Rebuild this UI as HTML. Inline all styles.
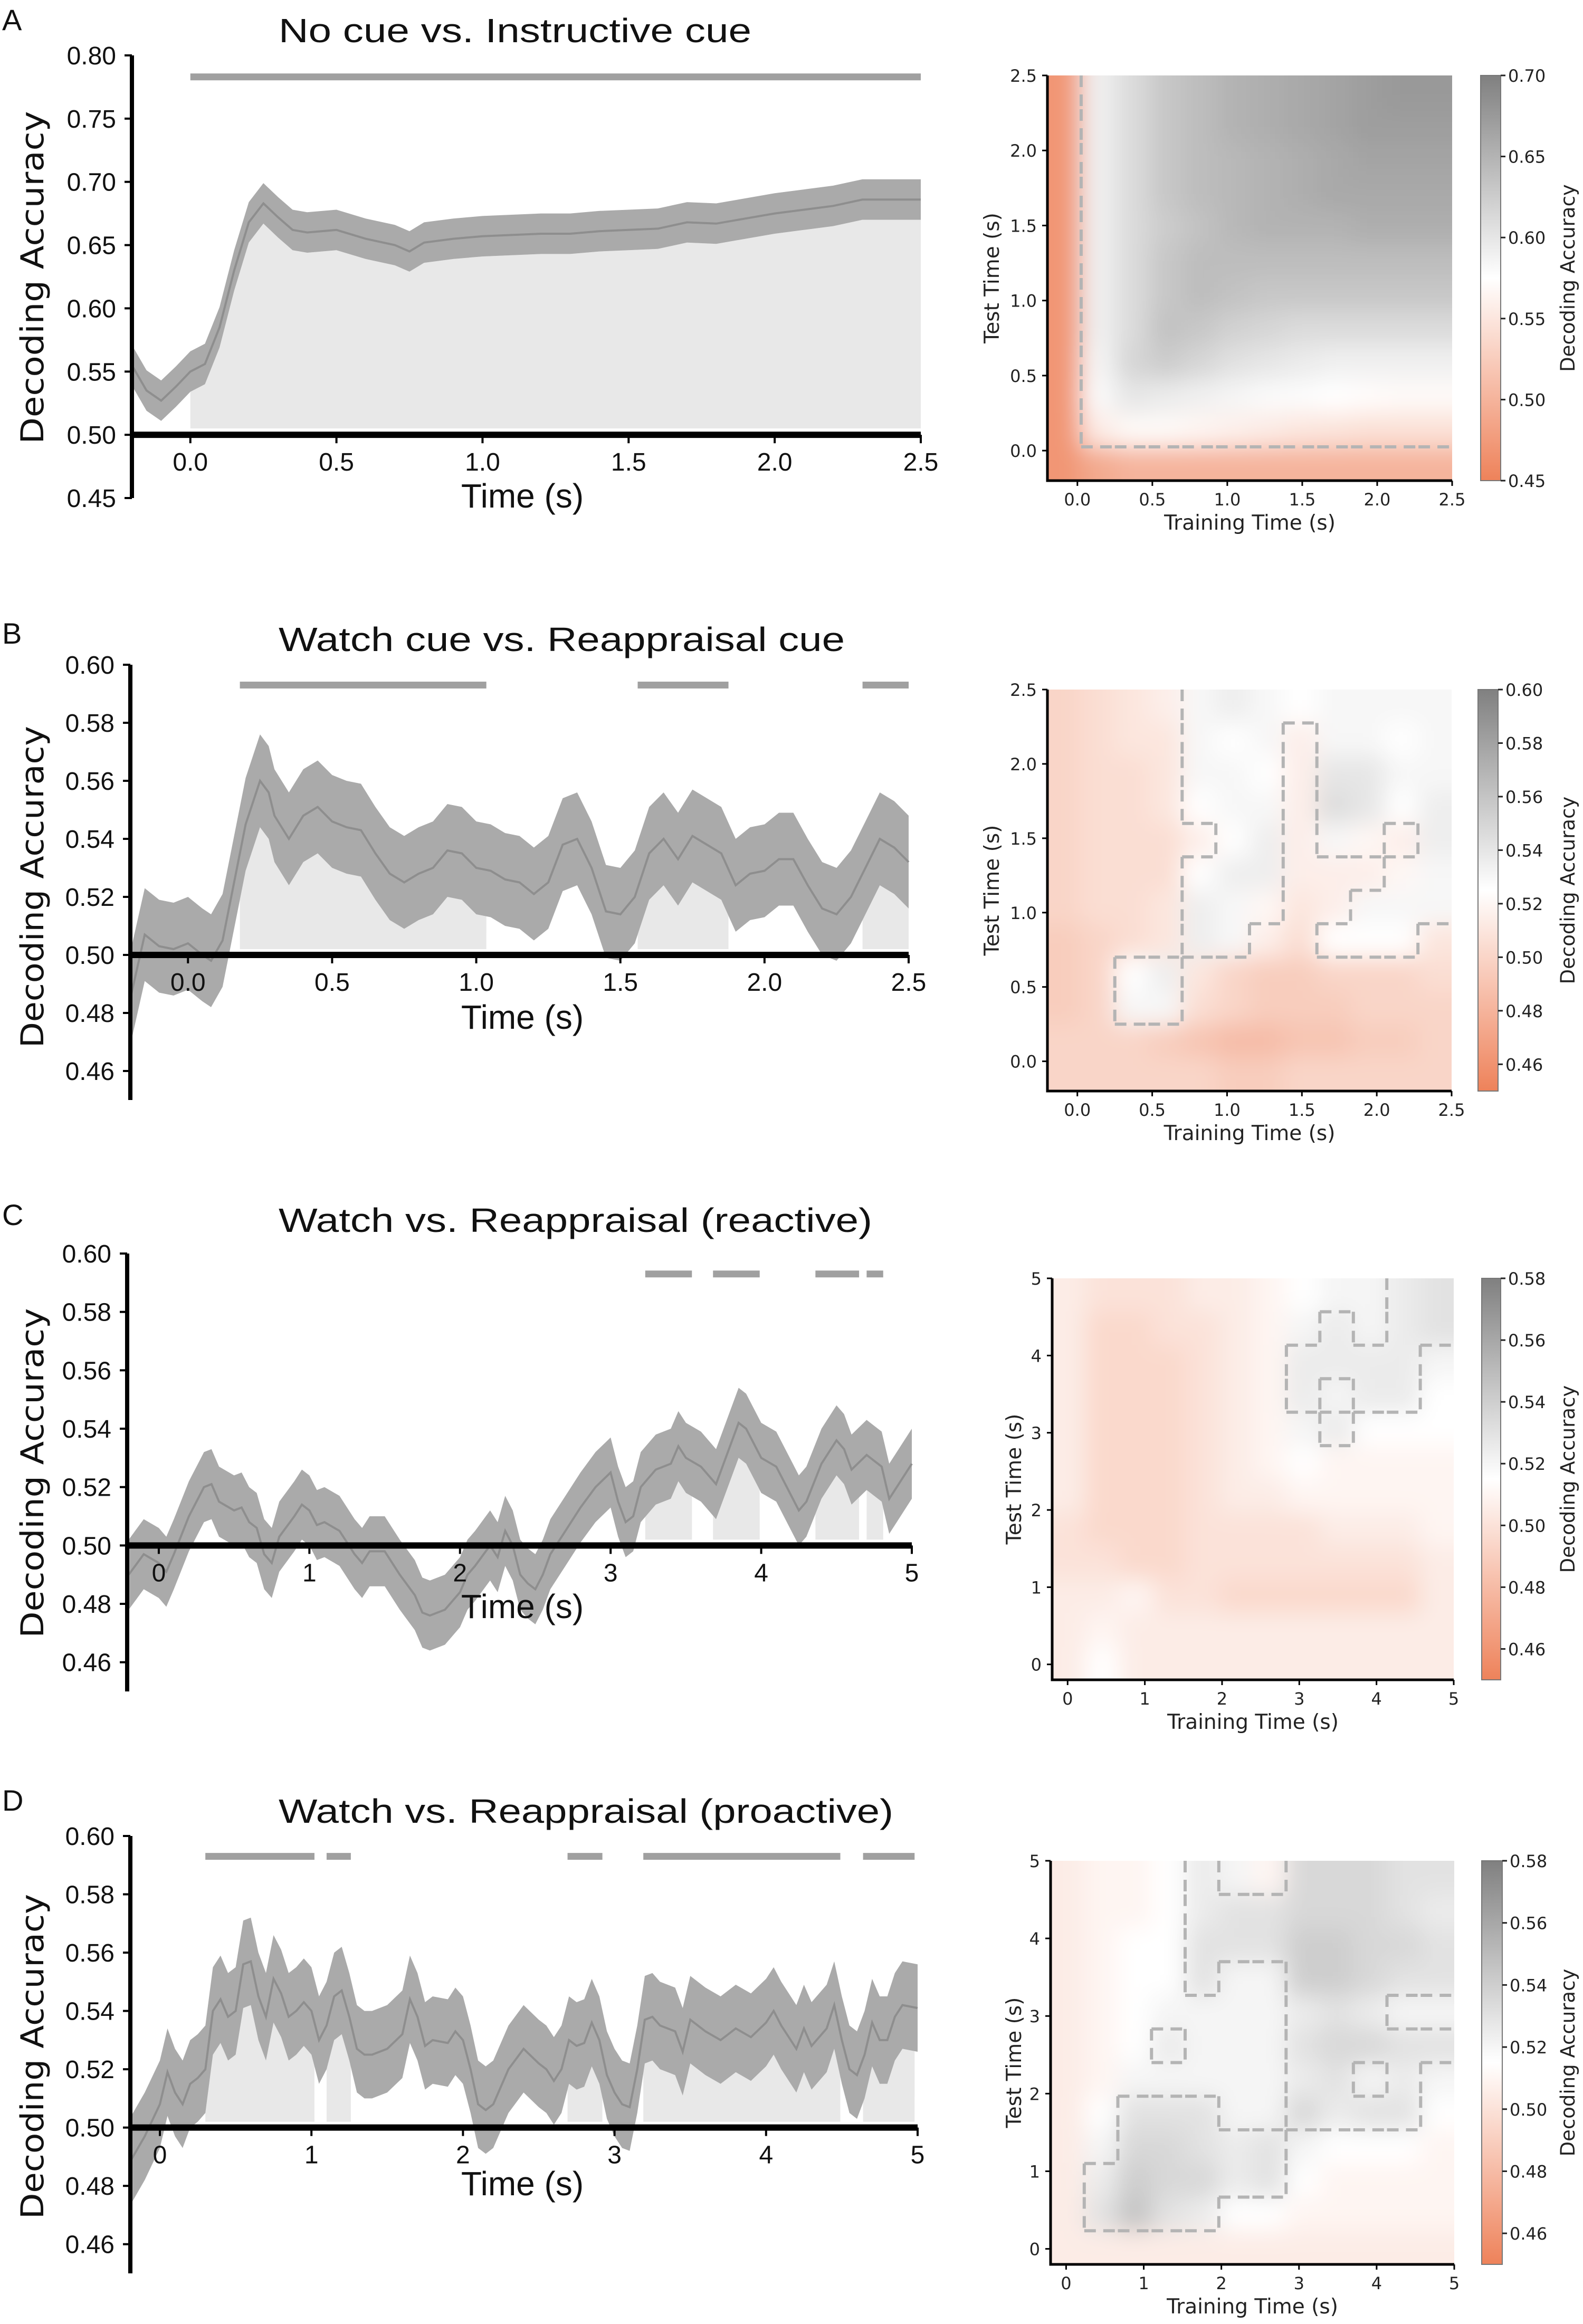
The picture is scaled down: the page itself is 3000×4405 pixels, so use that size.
<!DOCTYPE html>
<html><head><meta charset="utf-8">
<style>
html,body{margin:0;padding:0;background:#fff;}
svg{display:block;}
</style></head>
<body>
<svg id="fig" xmlns="http://www.w3.org/2000/svg" width="3000" height="4405" viewBox="0 0 3000 4405">
<defs>
<filter id="blur" x="-10%" y="-10%" width="120%" height="120%"><feGaussianBlur stdDeviation="22"/></filter>
</defs>
<rect x="0" y="0" width="3000" height="4405" fill="#fff"/>
</svg>
<script>
// ---------- Panel A line data ----------
const tA = [-0.2,-0.15,-0.1,-0.05,0,0.05,0.1,0.15,0.2,0.25,0.3,0.35,0.4,0.5,0.6,0.7,0.75,0.8,0.9,1.0,1.1,1.2,1.3,1.4,1.5,1.6,1.7,1.8,1.9,2.0,2.1,2.2,2.3,2.4,2.5];
const mA = [0.555,0.535,0.527,0.538,0.550,0.556,0.585,0.630,0.668,0.683,0.672,0.662,0.660,0.662,0.655,0.650,0.645,0.652,0.655,0.657,0.658,0.659,0.659,0.661,0.662,0.663,0.668,0.667,0.671,0.675,0.678,0.681,0.686,0.686,0.686];
const ciA = 0.016;
const sigA = [[0.0,2.5]];
// ---------- Panel B line data ----------
const tB = [-0.2,-0.15,-0.1,-0.05,0,0.05,0.08,0.12,0.15,0.2,0.25,0.28,0.3,0.35,0.4,0.45,0.5,0.55,0.6,0.65,0.7,0.75,0.8,0.85,0.9,0.95,1.0,1.05,1.1,1.15,1.2,1.25,1.3,1.35,1.4,1.45,1.5,1.55,1.6,1.65,1.7,1.75,1.8,1.85,1.9,1.95,2.0,2.05,2.1,2.15,2.2,2.25,2.3,2.35,2.4,2.45,2.5];
const mB = [0.485,0.507,0.503,0.502,0.504,0.500,0.498,0.505,0.520,0.545,0.560,0.556,0.548,0.540,0.548,0.551,0.546,0.544,0.543,0.535,0.528,0.525,0.528,0.530,0.536,0.535,0.530,0.529,0.526,0.525,0.521,0.525,0.538,0.540,0.530,0.515,0.514,0.520,0.535,0.540,0.533,0.541,0.538,0.535,0.524,0.528,0.529,0.533,0.533,0.524,0.516,0.514,0.520,0.530,0.540,0.537,0.532];
const ciB = 0.016;
const sigB = [[0.18,1.035],[1.56,1.875],[2.34,2.5]];
// ---------- Panel C line data ----------
const tC = [-0.2,-0.1,0,0.05,0.1,0.2,0.3,0.35,0.4,0.5,0.55,0.6,0.65,0.7,0.75,0.8,0.9,0.95,1.0,1.05,1.1,1.2,1.3,1.35,1.4,1.5,1.6,1.7,1.75,1.8,1.9,2.0,2.05,2.1,2.2,2.25,2.3,2.35,2.4,2.45,2.5,2.55,2.6,2.7,2.8,2.9,3.0,3.05,3.1,3.15,3.2,3.3,3.4,3.45,3.5,3.6,3.7,3.8,3.85,3.9,4.0,4.1,4.2,4.25,4.3,4.4,4.5,4.55,4.6,4.7,4.8,4.85,4.9,5.0];
const mC = [0.490,0.497,0.494,0.491,0.497,0.510,0.520,0.521,0.515,0.512,0.513,0.508,0.506,0.497,0.494,0.503,0.510,0.514,0.512,0.507,0.508,0.505,0.497,0.494,0.498,0.498,0.490,0.483,0.477,0.476,0.478,0.484,0.490,0.493,0.500,0.496,0.505,0.500,0.490,0.487,0.485,0.490,0.497,0.505,0.513,0.520,0.525,0.515,0.508,0.510,0.520,0.526,0.528,0.534,0.530,0.527,0.521,0.535,0.542,0.540,0.530,0.527,0.517,0.512,0.515,0.528,0.536,0.533,0.526,0.531,0.527,0.516,0.520,0.528];
const ciC = 0.012;
const sigC = [[3.23,3.54],[3.68,3.99],[4.36,4.65],[4.70,4.81]];
// ---------- Panel D line data ----------
const tD = [-0.2,-0.1,0,0.05,0.1,0.15,0.2,0.25,0.3,0.35,0.4,0.45,0.5,0.55,0.6,0.65,0.7,0.75,0.8,0.85,0.9,0.95,1.0,1.05,1.1,1.15,1.2,1.25,1.3,1.35,1.4,1.5,1.6,1.65,1.7,1.75,1.8,1.9,1.95,2.0,2.05,2.1,2.15,2.2,2.3,2.4,2.5,2.55,2.6,2.65,2.7,2.75,2.8,2.85,2.9,2.95,3.0,3.05,3.1,3.15,3.2,3.25,3.3,3.4,3.45,3.5,3.6,3.7,3.8,3.9,4.0,4.05,4.1,4.15,4.2,4.25,4.3,4.4,4.45,4.5,4.55,4.6,4.65,4.7,4.75,4.8,4.85,4.9,5.0];
const mD = [0.488,0.497,0.508,0.519,0.512,0.508,0.515,0.517,0.520,0.540,0.544,0.538,0.540,0.556,0.557,0.545,0.538,0.551,0.546,0.538,0.540,0.543,0.540,0.530,0.535,0.545,0.547,0.538,0.527,0.525,0.525,0.527,0.532,0.544,0.538,0.528,0.530,0.529,0.533,0.530,0.520,0.508,0.506,0.508,0.520,0.527,0.522,0.520,0.516,0.520,0.530,0.528,0.529,0.536,0.530,0.518,0.512,0.508,0.507,0.520,0.537,0.538,0.535,0.533,0.526,0.537,0.533,0.530,0.534,0.531,0.536,0.540,0.535,0.531,0.527,0.534,0.528,0.534,0.542,0.530,0.520,0.518,0.525,0.536,0.530,0.530,0.538,0.542,0.541];
const ciD = 0.015;
const sigD = [[0.30,1.02],[1.10,1.26],[2.69,2.92],[3.19,4.49],[4.64,4.98]];
// ---------- tick labels ----------
const yTicksA = ["0.45","0.50","0.55","0.60","0.65","0.70","0.75","0.80"];
const yTicksBCD = ["0.46","0.48","0.50","0.52","0.54","0.56","0.58","0.60"];
const xTicksShort = ["0.0","0.5","1.0","1.5","2.0","2.5"];
const xTicksLong = ["0","1","2","3","4","5"];
const cbTicksA = ["0.45","0.50","0.55","0.60","0.65","0.70"];
const cbTicksB = ["0.46","0.48","0.50","0.52","0.54","0.56","0.58","0.60"];
const cbTicksCD = ["0.46","0.48","0.50","0.52","0.54","0.56","0.58"];
// ---------- heatmap grids (rows top -> bottom) ----------
const hmA = [
[.47,.59,.61,.63,.64,.65,.655,.66,.665,.67,.675,.675],
[.47,.59,.61,.63,.64,.65,.655,.66,.665,.67,.67,.67],
[.47,.59,.61,.63,.64,.645,.65,.655,.66,.665,.665,.665],
[.47,.59,.61,.63,.64,.645,.65,.655,.66,.66,.66,.66],
[.47,.59,.61,.625,.635,.645,.65,.65,.65,.655,.655,.655],
[.47,.59,.61,.63,.64,.64,.64,.64,.64,.64,.64,.64],
[.47,.59,.61,.63,.64,.635,.63,.63,.63,.63,.63,.63],
[.47,.59,.61,.635,.63,.62,.615,.61,.61,.61,.61,.61],
[.47,.585,.615,.625,.615,.605,.60,.595,.59,.59,.59,.59],
[.47,.58,.60,.595,.59,.585,.58,.578,.575,.572,.57,.57],
[.47,.555,.57,.57,.565,.56,.555,.55,.548,.545,.545,.545],
[.47,.49,.50,.50,.50,.50,.50,.50,.50,.50,.50,.50]];
const sigMaskA = [
[0,1,1,1,1,1,1,1,1,1,1,1],[0,1,1,1,1,1,1,1,1,1,1,1],[0,1,1,1,1,1,1,1,1,1,1,1],[0,1,1,1,1,1,1,1,1,1,1,1],
[0,1,1,1,1,1,1,1,1,1,1,1],[0,1,1,1,1,1,1,1,1,1,1,1],[0,1,1,1,1,1,1,1,1,1,1,1],[0,1,1,1,1,1,1,1,1,1,1,1],
[0,1,1,1,1,1,1,1,1,1,1,1],[0,1,1,1,1,1,1,1,1,1,1,1],[0,1,1,1,1,1,1,1,1,1,1,1],[0,0,0,0,0,0,0,0,0,0,0,0]];
const hmB = [
[.50,.505,.51,.515,.53,.535,.53,.525,.53,.53,.53,.53],
[.50,.505,.51,.51,.53,.525,.53,.515,.53,.53,.525,.53],
[.50,.505,.505,.51,.53,.53,.525,.515,.54,.54,.53,.53],
[.50,.505,.505,.51,.525,.53,.53,.515,.545,.54,.525,.535],
[.50,.505,.505,.505,.515,.525,.535,.515,.53,.52,.515,.535],
[.50,.505,.505,.505,.525,.535,.535,.515,.515,.515,.52,.53],
[.50,.505,.505,.51,.535,.53,.52,.51,.515,.53,.53,.53],
[.495,.50,.505,.51,.535,.53,.515,.505,.525,.525,.525,.51],
[.495,.50,.525,.535,.51,.50,.495,.495,.50,.50,.50,.505],
[.495,.50,.53,.53,.505,.50,.495,.495,.495,.50,.50,.50],
[.50,.50,.50,.495,.49,.485,.485,.49,.49,.495,.495,.50],
[.50,.50,.50,.50,.50,.495,.495,.50,.50,.50,.50,.50]];
const hmC = [
[.505,.50,.50,.50,.505,.505,.51,.515,.52,.52,.525,.53],
[.505,.495,.495,.50,.50,.505,.51,.52,.525,.52,.525,.53],
[.505,.495,.495,.495,.50,.505,.51,.525,.525,.525,.525,.52],
[.505,.495,.495,.495,.50,.505,.51,.525,.52,.525,.525,.515],
[.505,.495,.495,.495,.50,.505,.51,.52,.525,.515,.515,.515],
[.505,.495,.495,.495,.50,.505,.51,.515,.51,.51,.51,.51],
[.505,.495,.495,.495,.50,.505,.505,.51,.51,.51,.51,.51],
[.50,.495,.495,.495,.50,.50,.50,.50,.505,.505,.505,.51],
[.50,.50,.495,.495,.50,.50,.50,.50,.50,.50,.50,.505],
[.505,.505,.51,.50,.50,.495,.495,.495,.495,.495,.495,.505],
[.505,.51,.505,.505,.505,.505,.505,.505,.505,.505,.505,.505],
[.505,.515,.505,.505,.505,.505,.505,.505,.505,.505,.505,.505]];
const hmD = [
[.505,.51,.51,.515,.525,.52,.51,.535,.535,.535,.53,.53],
[.505,.51,.51,.515,.525,.53,.53,.535,.535,.535,.53,.525],
[.505,.51,.515,.515,.53,.53,.53,.54,.54,.535,.535,.53],
[.505,.51,.515,.515,.53,.52,.52,.54,.54,.535,.53,.53],
[.505,.51,.515,.52,.52,.52,.52,.525,.53,.525,.52,.52],
[.505,.51,.515,.525,.52,.52,.52,.53,.535,.535,.53,.53],
[.505,.51,.52,.52,.52,.52,.52,.525,.53,.52,.525,.52],
[.505,.515,.53,.53,.53,.52,.52,.535,.525,.53,.53,.515],
[.505,.52,.535,.535,.53,.525,.53,.52,.515,.515,.515,.51],
[.505,.525,.54,.535,.535,.525,.53,.515,.51,.51,.51,.51],
[.505,.53,.545,.53,.525,.515,.515,.51,.51,.51,.51,.51],
[.505,.505,.505,.505,.505,.505,.505,.505,.505,.505,.505,.505]];

const NS = 'http://www.w3.org/2000/svg';
const svg = document.getElementById('fig');
function mk(tag, attrs, parent){
  const e = document.createElementNS(NS, tag);
  for (const k in attrs) e.setAttribute(k, attrs[k]);
  (parent || svg).appendChild(e);
  return e;
}
function interp(ts, vs, t){
  if (t <= ts[0]) return vs[0];
  for (let i = 1; i < ts.length; i++){
    if (t <= ts[i]) { const f = (t - ts[i-1]) / (ts[i] - ts[i-1]); return vs[i-1] + f * (vs[i] - vs[i-1]); }
  }
  return vs[vs.length - 1];
}
const SANS = '"Liberation Sans", Arial, sans-serif';
const DJ = '"DejaVu Sans", "Liberation Sans", sans-serif';

function linePanel(c, ts, ms, ci, sig, yLabels, xLabels){
  const g = mk('g', {});
  
  
  const X = t => c.px0 + (t - c.xmin) / (c.xmax - c.xmin) * (c.px1 - c.px0);
  const Y = v => c.pyBot - (v - c.ymin) / (c.ymax - c.ymin) * (c.pyBot - c.pyTop);
  sig.forEach((iv, k) => {
    const pts = [iv[0]];
    ts.forEach(t => { if (t > iv[0] && t < iv[1]) pts.push(t); });
    pts.push(iv[1]);
    let d = 'M' + X(iv[0]) + ',' + Y(c.base);
    pts.forEach(t => { const lo = Math.max(c.base, interp(ts, ms, t) - ci); d += ' L' + X(t).toFixed(1) + ',' + Y(lo).toFixed(1); });
    d += ' L' + X(iv[1]) + ',' + Y(c.base) + ' Z';
    const f = mk('path', {d: d, fill: '#e8e8e8'}, g);
    
    
  });
  let up = '', lo = '';
  ts.forEach((t, i) => { up += (i ? ' L' : 'M') + X(t).toFixed(1) + ',' + Y(ms[i] + ci).toFixed(1); });
  for (let i = ts.length - 1; i >= 0; i--) lo += ' L' + X(ts[i]).toFixed(1) + ',' + Y(ms[i] - ci).toFixed(1);
  const band = mk('path', {d: up + lo + ' Z', fill: '#aaaaaa'}, g);
  
  
  let md = '';
  ts.forEach((t, i) => { md += (i ? ' L' : 'M') + X(t).toFixed(1) + ',' + Y(ms[i]).toFixed(1); });
  const ml = mk('path', {d: md, fill: 'none', stroke: '#8e8e8e', 'stroke-width': 4}, g);
  
  
  sig.forEach((iv, k) => {
    const b = mk('line', {x1: X(iv[0]), x2: X(iv[1]), y1: Y(c.sigY), y2: Y(c.sigY), stroke: '#a0a0a0', 'stroke-width': 13}, g);
    
    
  });
  const zl = mk('line', {x1: c.px0, x2: c.px1, y1: Y(0.5), y2: Y(0.5), stroke: '#000', 'stroke-width': 12}, g);
  
  
  const ya = mk('line', {x1: c.px0, x2: c.px0, y1: c.axTop, y2: c.pyBot, stroke: '#000', 'stroke-width': 8}, g);
  
  
  yLabels.forEach(s => {
    const v = parseFloat(s);
    const tk = mk('line', {x1: c.px0 - 14, x2: c.px0, y1: Y(v), y2: Y(v), stroke: '#000', 'stroke-width': 4}, g);
    
    
    const tl = mk('text', {x: c.px0 - 30, y: Y(v) + 17, 'text-anchor': 'end', 'font-family': SANS, 'font-size': 48, fill: '#111'}, g);
    tl.textContent = s;
    
    
  });
  xLabels.forEach(s => {
    const v = parseFloat(s);
    const tk = mk('line', {x1: X(v), x2: X(v), y1: Y(0.5), y2: Y(0.5) + 16, stroke: '#000', 'stroke-width': 4}, g);
    
    
    const tl = mk('text', {x: X(v), y: Y(0.5) + 68, 'text-anchor': 'middle', 'font-family': SANS, 'font-size': 48, fill: '#111'}, g);
    tl.textContent = s;
    
    
  });
  const xt = mk('text', {x: 990, y: c.xlabY, 'text-anchor': 'middle', 'font-family': SANS, 'font-size': 64, fill: '#111'}, g);
  xt.textContent = 'Time (s)';
  
  
  const yt = mk('text', {x: 0, y: 0, transform: 'translate(82,' + c.ylabC + ') rotate(-90)', 'text-anchor': 'middle', 'font-family': DJ, 'font-size': 60, textLength: c.ylabLen, lengthAdjust: 'spacingAndGlyphs', fill: '#111'}, g);
  yt.textContent = 'Decoding Accuracy';
  
  
  const ti = mk('text', {x: 528, y: c.titleY, 'font-family': SANS, 'font-size': 64, textLength: c.titleLen, lengthAdjust: 'spacingAndGlyphs', fill: '#111'}, g);
  ti.textContent = c.title;
  
  
  const pl = mk('text', {x: 4, y: c.letterY, 'font-family': SANS, 'font-size': 56, fill: '#111'}, g);
  pl.textContent = c.letter;
  
  
}

function cmap(v, lo, mid, hi){
  const O = [238,130,90], W = [255,255,255], G = [128,128,128];
  let a, b, f;
  if (v <= mid){ a = O; b = W; f = (v - lo) / (mid - lo); } else { a = W; b = G; f = (v - mid) / (hi - mid); }
  f = Math.max(0, Math.min(1, f));
  return 'rgb(' + a.map((x, i) => Math.round(x + (b[i] - x) * f)).join(',') + ')';
}

let clipN = 0;
function heatPanel(c, grid, mask, xLabels, yLabels, cbLabels){
  const g = mk('g', {});
  
  
  const X = t => c.x0 + (t - c.tmin) / (c.tmax - c.tmin) * (c.x1 - c.x0);
  const Y = t => c.y1 - (t - c.tmin) / (c.tmax - c.tmin) * (c.y1 - c.y0);
  const n = grid.length, m = grid[0].length;
  const cw = (c.x1 - c.x0) / m, chh = (c.y1 - c.y0) / n;
  const id = 'clip' + (clipN++);
  const cp = mk('clipPath', {id: id}, g);
  mk('rect', {x: c.x0, y: c.y0, width: c.x1 - c.x0, height: c.y1 - c.y0}, cp);
  const outer = mk('g', {'clip-path': 'url(#' + id + ')'}, g);
  const inner = mk('g', {filter: 'url(#blur)'}, outer);
  for (let r = 0; r < n; r++) for (let k = 0; k < m; k++){
    let x = c.x0 + k * cw, y = c.y0 + r * chh, w = cw + 1, h = chh + 1;
    if (k === 0){ x -= cw; w += cw; }
    if (k === m - 1){ w += cw; }
    if (r === 0){ y -= chh; h += chh; }
    if (r === n - 1){ h += chh; }
    const cell = mk('rect', {x: x.toFixed(1), y: y.toFixed(1), width: w.toFixed(1), height: h.toFixed(1), fill: cmap(grid[r][k], c.vmin, c.vmid, c.vmax)}, inner);
    
    
  }
  const sigAt = (r, k) => mask ? mask[r][k] : (grid[r][k] >= c.thr ? 1 : 0);
  let d = '';
  for (let r = 0; r < n; r++) for (let k = 0; k < m; k++){
    if (k < m - 1 && sigAt(r, k) !== sigAt(r, k + 1)){ const xx = c.x0 + (k + 1) * cw; d += 'M' + xx.toFixed(1) + ',' + (c.y0 + r * chh).toFixed(1) + ' V' + (c.y0 + (r + 1) * chh).toFixed(1) + ' '; }
    if (r < n - 1 && sigAt(r, k) !== sigAt(r + 1, k)){ const yy = c.y0 + (r + 1) * chh; d += 'M' + (c.x0 + k * cw).toFixed(1) + ',' + yy.toFixed(1) + ' H' + (c.x0 + (k + 1) * cw).toFixed(1) + ' '; }
  }
  if (d){
    const ct = mk('path', {d: d, fill: 'none', stroke: '#b4b4b4', 'stroke-width': 6, 'stroke-dasharray': '22 14'}, outer);
    
    
  }
  const sp = mk('path', {d: 'M' + c.x0 + ',' + c.y0 + ' V' + c.y1 + ' H' + c.x1, fill: 'none', stroke: '#000', 'stroke-width': 5}, g);
  
  
  xLabels.forEach(s => {
    const v = parseFloat(s);
    const tk = mk('line', {x1: X(v), x2: X(v), y1: c.y1, y2: c.y1 + 10, stroke: '#000', 'stroke-width': 3}, g);
    
    
    const tl = mk('text', {x: X(v), y: c.y1 + 47, 'text-anchor': 'middle', 'font-family': DJ, 'font-size': 32, fill: '#222'}, g);
    tl.textContent = s;
    
    
  });
  yLabels.forEach(s => {
    const v = parseFloat(s);
    const tk = mk('line', {x1: c.x0 - 10, x2: c.x0, y1: Y(v), y2: Y(v), stroke: '#000', 'stroke-width': 3}, g);
    
    
    const tl = mk('text', {x: c.x0 - 20, y: Y(v) + 12, 'text-anchor': 'end', 'font-family': DJ, 'font-size': 32, fill: '#222'}, g);
    tl.textContent = s;
    
    
  });
  const xt = mk('text', {x: (c.x0 + c.x1) / 2, y: c.y1 + 93, 'text-anchor': 'middle', 'font-family': DJ, 'font-size': 39, fill: '#222'}, g);
  xt.textContent = 'Training Time (s)';
  
  
  const yt = mk('text', {x: 0, y: 0, transform: 'translate(' + c.ylabX + ',' + ((c.y0 + c.y1) / 2) + ') rotate(-90)', 'text-anchor': 'middle', 'font-family': DJ, 'font-size': 39, fill: '#222'}, g);
  yt.textContent = 'Test Time (s)';
  
  
  const gid = 'grad' + clipN;
  const lg = mk('linearGradient', {id: gid, x1: 0, y1: 1, x2: 0, y2: 0}, g);
  [0, 0.25, 0.5, 0.75, 1].forEach(f => {
    const v = c.vmin + f * (c.vmax - c.vmin);
    mk('stop', {offset: f, 'stop-color': cmap(v, c.vmin, c.vmid, c.vmax)}, lg);
  });
  const cb = mk('rect', {x: c.cb0, y: c.y0, width: c.cb1 - c.cb0, height: c.y1 - c.y0, fill: 'url(#' + gid + ')', stroke: '#777', 'stroke-width': 2}, g);
  
  
  const CY = v => c.y1 - (v - c.vmin) / (c.vmax - c.vmin) * (c.y1 - c.y0);
  cbLabels.forEach(s => {
    const v = parseFloat(s);
    const tk = mk('line', {x1: c.cb1, x2: c.cb1 + 9, y1: CY(v), y2: CY(v), stroke: '#222', 'stroke-width': 3}, g);
    
    
    const tl = mk('text', {x: c.cb1 + 14, y: CY(v) + 12, 'font-family': DJ, 'font-size': 32, fill: '#222'}, g);
    tl.textContent = s;
    
    
  });
  const cl = mk('text', {x: 0, y: 0, transform: 'translate(2984,' + ((c.y0 + c.y1) / 2) + ') rotate(-90)', 'text-anchor': 'middle', 'font-family': DJ, 'font-size': 37, fill: '#222'}, g);
  cl.textContent = 'Decoding Accuracy';
  
  
}

linePanel({name:'panel-a-timecourse', letter:'A', letterY:57, title:'No cue vs. Instructive cue', titleY:80, titleLen:896,
  px0:250, px1:1745, xmin:-0.2, xmax:2.5, pyTop:105, pyBot:944, ymax:0.80, ymin:0.45, axTop:105,
  base:0.505, sigY:0.783, xlabY:962, ylabC:526, ylabLen:631}, tA, mA, ciA, sigA, yTicksA, xTicksShort);
linePanel({name:'panel-b-timecourse', letter:'B', letterY:1220, title:'Watch cue vs.  Reappraisal cue', titleY:1234, titleLen:1073,
  px0:247, px1:1722, xmin:-0.2, xmax:2.5, pyTop:1260, pyBot:2085, ymax:0.60, ymin:0.45, axTop:1260,
  base:0.502, sigY:0.593, xlabY:1950, ylabC:1681, ylabLen:610}, tB, mB, ciB, sigB, yTicksBCD, xTicksShort);
linePanel({name:'panel-c-timecourse', letter:'C', letterY:2322, title:'Watch vs.  Reappraisal (reactive)', titleY:2335, titleLen:1125,
  px0:241, px1:1728, xmin:-0.21, xmax:5, pyTop:2376, pyBot:3206, ymax:0.60, ymin:0.45, axTop:2376,
  base:0.502, sigY:0.593, xlabY:3067, ylabC:2792, ylabLen:625}, tC, mC, ciC, sigC, yTicksBCD, xTicksLong);
linePanel({name:'panel-d-timecourse', letter:'D', letterY:3432, title:'Watch vs.  Reappraisal (proactive)', titleY:3455, titleLen:1165,
  px0:247, px1:1739, xmin:-0.195, xmax:5, pyTop:3480, pyBot:4309, ymax:0.60, ymin:0.45, axTop:3480,
  base:0.502, sigY:0.593, xlabY:4161, ylabC:3898, ylabLen:616}, tD, mD, ciD, sigD, yTicksBCD, xTicksLong);

heatPanel({name:'panel-a-heatmap', x0:1985, x1:2752, y0:143, y1:911, tmin:-0.2, tmax:2.5, vmin:0.45, vmid:0.575, vmax:0.70, ylabX:1893, cb0:2806, cb1:2844},
  hmA, sigMaskA, xTicksShort, xTicksShort, cbTicksA);
heatPanel({name:'panel-b-heatmap', x0:1985, x1:2751, y0:1307, y1:2068, tmin:-0.2, tmax:2.5, vmin:0.45, vmid:0.525, vmax:0.60, thr:0.52, ylabX:1893, cb0:2801, cb1:2839},
  hmB, null, xTicksShort, xTicksShort, cbTicksB);
heatPanel({name:'panel-c-heatmap', x0:1994, x1:2755, y0:2423, y1:3184, tmin:-0.2, tmax:5, vmin:0.45, vmid:0.515, vmax:0.58, thr:0.525, ylabX:1935, cb0:2808, cb1:2844},
  hmC, null, xTicksLong, xTicksLong, cbTicksCD);
heatPanel({name:'panel-d-heatmap', x0:1991, x1:2756, y0:3527, y1:4292, tmin:-0.2, tmax:5, vmin:0.45, vmid:0.515, vmax:0.58, thr:0.525, ylabX:1935, cb0:2808, cb1:2847},
  hmD, null, xTicksLong, xTicksLong, cbTicksCD);
</script>
</body></html>
